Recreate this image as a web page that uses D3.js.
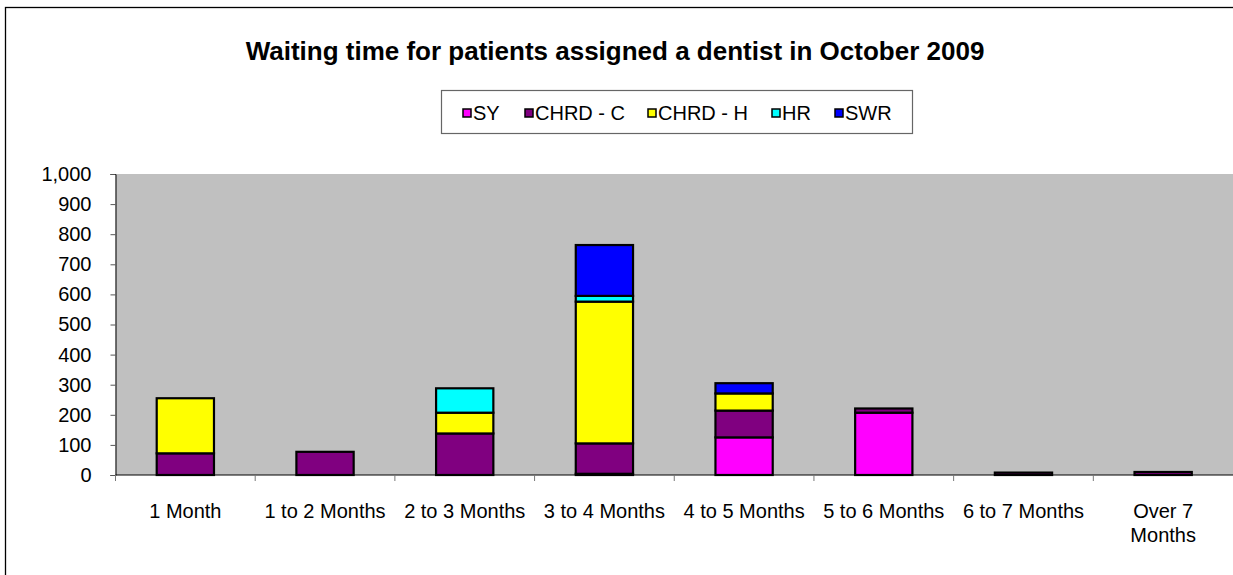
<!DOCTYPE html>
<html>
<head>
<meta charset="utf-8">
<script src="https://cdn.jsdelivr.net/npm/d3@7"></script>
<style>
  body { margin: 0; background: #fff; }
  svg { display: block; font-family: Arial, "Liberation Sans", sans-serif; }
</style>
</head>
<body>
<svg id="chart" width="1233" height="575"></svg>
<script>
// categories along the x axis
const categories = ["1 Month", "1 to 2 Months", "2 to 3 Months", "3 to 4 Months",
  "4 to 5 Months", "5 to 6 Months", "6 to 7 Months", "Over 7 Months"];

// series (bottom to top of the stack)
const seriesNames = ["SY", "CHRD - C", "CHRD - H", "HR", "SWR"];
const seriesColors = ["#ff00ff", "#800080", "#ffff00", "#00ffff", "#0000ff"];

const syValues    = [0, 0, 0, 4, 125, 207, 0, 0];
const chrdCValues = [72, 77, 138, 101, 89, 14, 8, 10];
const chrdHValues = [183, 0, 69, 471, 57, 0, 0, 0];
const hrValues    = [0, 0, 81, 19, 0, 0, 0, 0];
const swrValues   = [0, 0, 0, 169, 34, 0, 0, 0];

const yTicks = [0, 100, 200, 300, 400, 500, 600, 700, 800, 900, 1000];

const svg = d3.select("#chart");

// outer chart border (runs off the bottom/right of the picture)
svg.append("rect")
  .attr("x", 5.5).attr("y", 7.5)
  .attr("width", 1300).attr("height", 700)
  .attr("fill", "#fff").attr("stroke", "#000").attr("stroke-width", 1.3);

svg.append("text")
  .attr("x", 615).attr("y", 60)
  .attr("text-anchor", "middle")
  .attr("font-size", 26).attr("font-weight", "bold")
  .text("Waiting time for patients assigned a dentist in October 2009");

const plot = { left: 115.5, right: 1233, top: 174, bottom: 475 };

const x = d3.scaleBand()
  .domain(categories)
  .range([plot.left, plot.right])
  .paddingInner(0).paddingOuter(0);

const y = d3.scaleLinear()
  .domain([0, 1000])
  .range([plot.bottom, plot.top]);

svg.append("rect")
  .attr("x", plot.left).attr("y", plot.top)
  .attr("width", plot.right - plot.left).attr("height", plot.bottom - plot.top)
  .attr("fill", "#c0c0c0");

// stacked data
const table = categories.map((c, i) => ({
  cat: c,
  "SY": syValues[i],
  "CHRD - C": chrdCValues[i],
  "CHRD - H": chrdHValues[i],
  "HR": hrValues[i],
  "SWR": swrValues[i]
}));
const stacked = d3.stack().keys(seriesNames)(table);
const color = d3.scaleOrdinal(seriesNames, seriesColors);

const barW = x.bandwidth() * 0.41;

svg.append("g").selectAll("g")
  .data(stacked)
  .join("g")
  .attr("fill", d => color(d.key))
  .selectAll("rect")
  .data(d => d.filter(p => p[1] - p[0] > 0))
  .join("rect")
  .attr("x", d => x(d.data.cat) + (x.bandwidth() - barW) / 2)
  .attr("y", d => y(d[1]))
  .attr("width", barW)
  .attr("height", d => y(d[0]) - y(d[1]))
  .attr("stroke", "#000")
  .attr("stroke-width", 2.2);

// y axis
const yAxis = svg.append("g")
  .attr("transform", `translate(${plot.left},0)`)
  .call(d3.axisLeft(y).tickValues(yTicks).tickSize(5).tickPadding(19)
    .tickFormat(d3.format(",")));
yAxis.select(".domain").attr("stroke", "#000");
yAxis.selectAll(".tick line").attr("stroke", "#555");
yAxis.selectAll("text").attr("font-size", 20).attr("font-family", "Arial, 'Liberation Sans', sans-serif").attr("fill", "#000");

// x axis: ticks on category boundaries
svg.append("line")
  .attr("x1", plot.left).attr("x2", plot.right)
  .attr("y1", plot.bottom).attr("y2", plot.bottom)
  .attr("stroke", "#000").attr("stroke-width", 1);

const bounds = categories.map(c => x(c));
svg.append("g").selectAll("line")
  .data(bounds)
  .join("line")
  .attr("x1", d => d).attr("x2", d => d)
  .attr("y1", plot.bottom).attr("y2", plot.bottom + 6)
  .attr("stroke", "#777");

const xLabels = {
  "Over 7 Months": ["Over 7", "Months"]
};
svg.append("g").selectAll("text")
  .data(categories)
  .join("text")
  .attr("x", d => x(d) + x.bandwidth() / 2)
  .attr("y", 518)
  .attr("text-anchor", "middle")
  .attr("font-size", 20)
  .each(function (d) {
    const lines = xLabels[d] || [d];
    d3.select(this).selectAll("tspan")
      .data(lines)
      .join("tspan")
      .attr("x", x(d) + x.bandwidth() / 2)
      .attr("dy", (l, i) => i === 0 ? 0 : 24)
      .text(l => l);
  });

// legend
const legend = svg.append("g");
legend.append("rect")
  .attr("x", 441.5).attr("y", 90.5)
  .attr("width", 471).attr("height", 43)
  .attr("fill", "#fff").attr("stroke", "#666").attr("stroke-width", 1.2);

const itemX = [463, 525, 648, 772, 835];
const items = legend.selectAll("g.item")
  .data(seriesNames)
  .join("g")
  .attr("class", "item")
  .attr("transform", (d, i) => `translate(${itemX[i]},112)`);
items.append("rect")
  .attr("x", 0).attr("y", -3)
  .attr("width", 8).attr("height", 8)
  .attr("fill", d => color(d))
  .attr("stroke", "#000").attr("stroke-width", 1.5);
items.append("text")
  .attr("x", 10).attr("y", 8)
  .attr("font-size", 20)
  .text(d => d);
</script>
</body>
</html>
